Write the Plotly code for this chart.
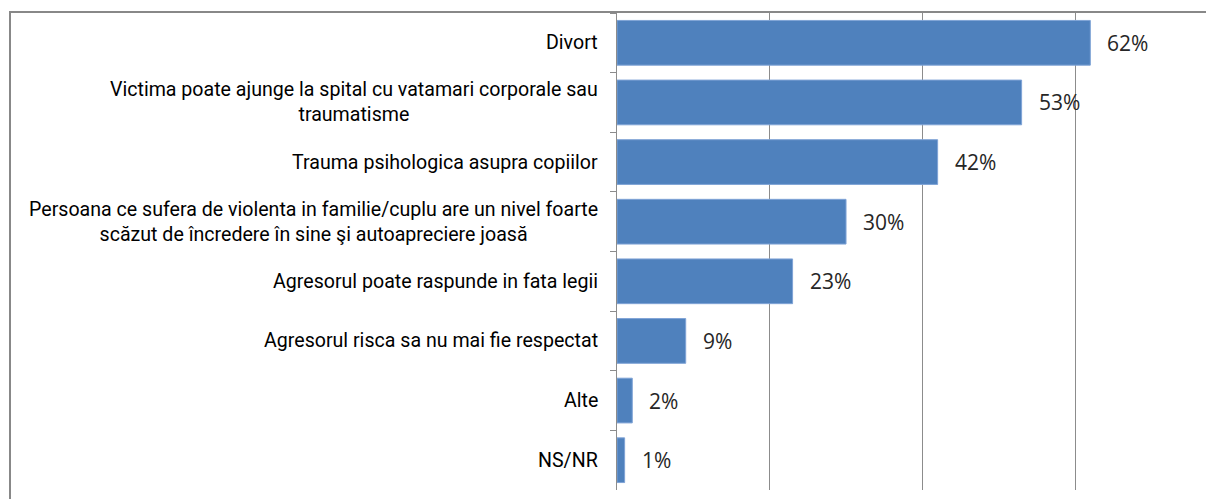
import plotly.graph_objects as go

categories = [
    "Divort",
    "Victima poate ajunge la spital cu vatamari corporale sau<br>traumatisme",
    "Trauma psihologica asupra copiilor",
    "Persoana ce sufera de violenta in familie/cuplu are un nivel foarte<br>scăzut de încredere în sine şi autoapreciere joasă",
    "Agresorul poate raspunde in fata legii",
    "Agresorul risca sa nu mai fie respectat",
    "Alte",
    "NS/NR",
]
values = [62, 53, 42, 30, 23, 9, 2, 1]
value_labels = ["62%", "53%", "42%", "30%", "23%", "9%", "2%", "1%"]

# page body has an 8px margin; size the figure to fill the rest of the window
W, H = 1206, 491
L, R, T, B = 609, 0, 5, 9

fig = go.Figure()
fig.add_trace(go.Bar(
    x=values, y=categories, orientation="h",
    marker=dict(color="#4F81BD", line=dict(color="#7FA3D6", width=1)),
    hoverinfo="skip",
))

annotations = []
for c, v, t in zip(categories, values, value_labels):
    annotations.append(dict(x=v, y=c, xref="x", yref="y", text=t, showarrow=False,
                            xanchor="left", xshift=15,
                            font=dict(family="Open Sans", size=21, color="#262626")))
    annotations.append(dict(x=0, y=c, xref="paper", yref="y", text=c, showarrow=False,
                            xanchor="right", align="center", xshift=-17,
                            font=dict(family="Roboto", size=19.6, color="#000000")))

pw = W - L - R
ph = H - T - B
fig.update_layout(
    width=W, height=H,
    margin=dict(l=L, r=R, t=T, b=B),
    paper_bgcolor="white", plot_bgcolor="white",
    showlegend=False,
    bargap=0.25,
    xaxis=dict(range=[0, 78.2], dtick=20, showgrid=True, gridcolor="#8C8C8C", gridwidth=1,
               showticklabels=False, zeroline=False, showline=False, fixedrange=True),
    yaxis=dict(autorange="reversed", showticklabels=False, showline=True, linecolor="#8C8C8C",
               linewidth=1, ticks="outside", ticklen=6, tickcolor="#8C8C8C",
               tickson="boundaries", showgrid=False),
    annotations=annotations,
    shapes=[dict(type="rect", xref="paper", yref="paper",
                 x0=(2 - L) / pw, x1=1.2, y0=-0.2, y1=1 + 1 / ph,
                 line=dict(color="#888888", width=2), fillcolor="rgba(0,0,0,0)", layer="above")],
)
fig.write_html("out.html")
